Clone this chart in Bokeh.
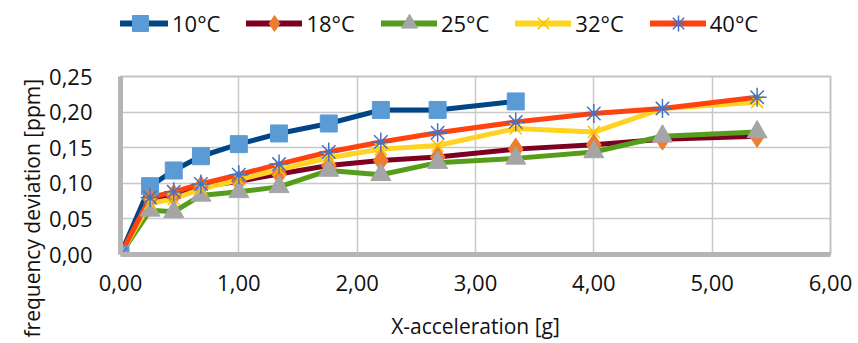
from bokeh.plotting import figure
from bokeh.models import Range1d, FixedTicker, CustomJSTickFormatter, Legend, Title
from bokeh.layouts import column
from bokeh.embed import file_html
from bokeh.resources import INLINE

x_full = [0, 0.25, 0.45, 0.68, 1.0, 1.34, 1.76, 2.2, 2.68, 3.34, 4.0, 4.58, 5.38]
x_10 = [0, 0.25, 0.45, 0.68, 1.0, 1.34, 1.76, 2.2, 2.68, 3.34]
y_10 = [0, 0.096, 0.118, 0.138, 0.155, 0.170, 0.184, 0.203, 0.203, 0.215]
y_18 = [0, 0.078, 0.083, 0.095, 0.103, 0.113, 0.125, 0.132, 0.137, 0.148, 0.154, 0.162, 0.166]
y_25 = [0, 0.062, 0.060, 0.083, 0.088, 0.095, 0.118, 0.112, 0.129, 0.135, 0.144, 0.166, 0.172]
y_32 = [0, 0.072, 0.078, 0.092, 0.105, 0.119, 0.136, 0.148, 0.153, 0.177, 0.172, 0.205, 0.214]
y_40 = [0, 0.080, 0.088, 0.099, 0.112, 0.127, 0.144, 0.158, 0.171, 0.186, 0.198, 0.205, 0.221]
labels = ["10°C", "18°C", "25°C", "32°C", "40°C"]
x_ticks = [0, 1, 2, 3, 4, 5, 6]
y_ticks = [0, 0.05, 0.10, 0.15, 0.20, 0.25]

FONT = "Open Sans"
TXT = "#111111"

series = [
    dict(x=x_10, y=y_10, line="#004586", marker="square", mfill="#5b9bd5", mline="#5b9bd5", msize=17),
    dict(x=x_full, y=y_18, line="#7e0021", marker="diamond", mfill="#ed7d31", mline="#ed7d31", msize=22),
    dict(x=x_full, y=y_25, line="#579d1c", marker="triangle", mfill="#a5a5a5", mline="#a5a5a5", msize=20),
    dict(x=x_full, y=y_32, line="#ffd320", marker="x", mfill=None, mline="#ffc000", msize=17),
    dict(x=x_full, y=y_40, line="#ff420e", marker="asterisk", mfill=None, mline="#4472c4", msize=19),
]

# ---------- main plot ----------
p = figure(width=858, height=297, output_backend="svg", toolbar_location=None,
           x_range=Range1d(0, 6), y_range=Range1d(0, 0.25),
           min_border_left=120, min_border_right=28, min_border_top=30, min_border_bottom=89)

p.xgrid.grid_line_color = "#c8c8c8"
p.ygrid.grid_line_color = "#c8c8c8"
p.xgrid.grid_line_width = 1.5
p.ygrid.grid_line_width = 1.5
p.outline_line_color = "#c4c4c4"
p.outline_line_width = 2

fmt = CustomJSTickFormatter(code="return tick.toFixed(2).replace('.', ',');")
for ax, ticks in ((p.xaxis[0], x_ticks), (p.yaxis[0], y_ticks)):
    ax.ticker = FixedTicker(ticks=ticks)
    ax.formatter = fmt
    ax.major_tick_line_color = None
    ax.minor_tick_line_color = None
    ax.axis_line_color = "#b5b5b5"
    ax.axis_line_width = 5
    ax.major_label_text_font = FONT
    ax.major_label_text_font_size = "22px"
    ax.major_label_text_color = TXT
p.xaxis.major_label_standoff = 14
p.yaxis.major_label_standoff = 22
p.xaxis.axis_label = "X-acceleration [g]"
p.xaxis.axis_label_text_font = FONT
p.xaxis.axis_label_text_font_size = "21px"
p.xaxis.axis_label_text_font_style = "normal"
p.xaxis.axis_label_text_color = TXT
p.xaxis.axis_label_standoff = 18

# y-axis title: starts near the bottom edge and runs upwards (as in the reference)
ytitle = Title(text="frequency deviation [ppm]", align="left", offset=-83,
               text_font=FONT, text_font_size="21px", text_font_style="normal",
               text_color=TXT, standoff=2)
p.add_layout(ytitle, "left")

for s in series:
    p.line(s["x"], s["y"], line_color=s["line"], line_width=5, line_join="round", line_cap="round")
for s in series:
    if s["mfill"] is not None:
        p.scatter(s["x"], s["y"], marker=s["marker"], size=s["msize"],
                  fill_color=s["mfill"], line_color=s["mline"])
    else:
        p.scatter(s["x"], s["y"], marker=s["marker"], size=s["msize"],
                  line_color=s["mline"], line_width=1.5)

# ---------- legend strip ----------
leg = figure(width=858, height=46, output_backend="svg", toolbar_location=None,
             x_range=Range1d(0, 1), y_range=Range1d(0, 1),
             x_axis_location=None, y_axis_location=None,
             min_border_left=120, min_border_right=28, min_border_top=0, min_border_bottom=0)
leg.grid.visible = False
leg.outline_line_color = None

items = []
for lab, s in zip(labels, series):
    rl = leg.line([-10, -9], [-10, -9], line_color=s["line"], line_width=6, line_cap="round")
    if s["mfill"] is not None:
        rm = leg.scatter([-10], [-10], marker=s["marker"], fill_color=s["mfill"], line_color=s["mline"])
    else:
        rm = leg.scatter([-10], [-10], marker=s["marker"], line_color=s["mline"], line_width=1.5)
    items.append((lab, [rl, rm]))

legend = Legend(items=items, orientation="horizontal", location=(-8, 3),
                border_line_color=None, background_fill_alpha=0,
                label_text_font=FONT, label_text_font_size="22px", label_text_color=TXT,
                glyph_width=56, glyph_height=40, label_standoff=4, label_width=48,
                spacing=26, padding=0, margin=0)
leg.add_layout(legend, "center")

layout = column(leg, p, spacing=0)
open("out.html", "w").write(file_html(layout, INLINE))
